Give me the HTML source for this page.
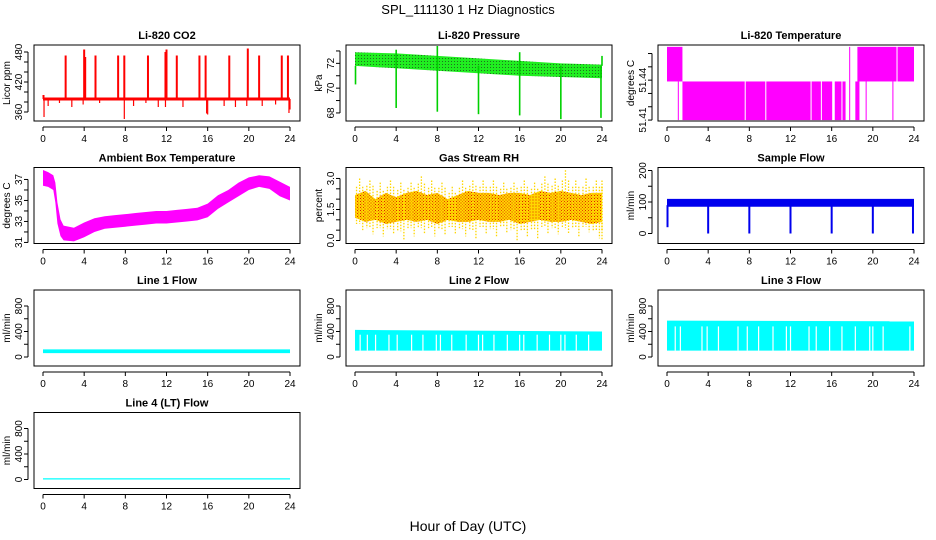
<!DOCTYPE html>
<html><head><meta charset="utf-8"><style>
html,body{margin:0;padding:0;background:#fff;}
svg{display:block;font-family:"Liberation Sans",Arial,sans-serif;}
</style></head><body>
<svg id="c" width="936" height="540" viewBox="0 0 936 540" xmlns="http://www.w3.org/2000/svg">
<defs>
<pattern id="rhpat" width="3" height="3" patternUnits="userSpaceOnUse"><rect width="3" height="3" fill="#ffd700"/><rect x="0" y="0" width="1" height="1" fill="#e02000"/><rect x="1.5" y="1.5" width="1" height="1" fill="#e02000"/></pattern>
<pattern id="prpat" width="3" height="3" patternUnits="userSpaceOnUse"><rect width="3" height="3" fill="#20ee20"/><rect x="1" y="1" width="1" height="1" fill="#207020"/></pattern>
</defs>
<text x="468" y="14" text-anchor="middle" font-size="13">SPL_111130  1 Hz Diagnostics</text>
<text x="468" y="531" text-anchor="middle" font-size="14">Hour of Day (UTC)</text>
</svg>
<script>
// ---- data ----
const xTicks=[0,4,8,12,16,20,24];
// CO2
const co2Hours=[0,24];
const co2Lo=[383,383];
const co2Hi=[389,389];
const co2UpSpikes=[[2.2,473],[4.0,485],[4.1,470],[5.1,473],[7.3,473],[7.9,473],[10.2,473],[11.9,480],[12.0,485],[13.0,473],[15.2,473],[15.8,473],[18.1,473],[19.9,487],[21.0,473],[23.2,473],[23.8,473],[0.05,394]];
const co2DownSpikes=[[0.1,350],[0.5,372],[1.6,378],[2.8,370],[3.9,375],[5.5,378],[7.9,346],[8.8,372],[10.0,378],[11.2,370],[11.9,370],[13.6,370],[15.9,357],[16.0,355],[17.6,372],[18.7,370],[19.8,372],[21.3,372],[22.6,375],[23.9,358],[24.0,365]];
// Pressure
const prHours=[0,4,8,12,16,20,24];
const prHi=[72.9,72.8,72.6,72.4,72.2,72.0,71.9];
const prLo=[71.8,71.6,71.4,71.2,71.0,70.9,70.8];
const prSpikes=[[0.05,70.3],[4.0,68.4],[8.0,68.1],[12.0,67.9],[16.0,67.8],[20.0,67.5],[23.9,67.6],[8.0,73.4],[16.0,72.9],[4.0,73.1],[24.0,72.6]];
// Li-820 temperature segments: start, end, lo, hi
const tSegStart=[0,1.05,1.5,7.65,9.65,14.05,15.05,16.3,17.05,17.7,18.3,18.5,19.3,21.9,22.4];
const tSegEnd=[1.5,1.15,7.55,9.55,13.95,14.95,16.05,16.95,17.35,17.8,18.7,22.3,19.4,22.0,24];
const tSegLo=[51.439,51.41,51.41,51.41,51.41,51.41,51.41,51.41,51.41,51.41,51.41,51.439,51.41,51.41,51.439];
const tSegHi=[51.465,51.439,51.439,51.439,51.439,51.439,51.439,51.439,51.439,51.465,51.439,51.465,51.439,51.439,51.465];
// Ambient temperature
const ambHours=[0,0.5,1,1.2,1.4,1.7,2,3,4,5,6,7,8,9,10,11,12,13,14,15,16,17,18,19,20,21,22,23,24];
const ambHi=[37.9,37.7,37.4,36.7,34.8,33.2,32.6,32.4,32.9,33.3,33.5,33.6,33.7,33.8,33.9,34.0,34.0,34.1,34.2,34.3,34.7,35.5,36.0,36.7,37.2,37.4,37.3,36.8,36.3];
const ambLo=[36.4,36.3,36.0,34.8,32.8,31.6,31.2,31.1,31.5,32.0,32.3,32.4,32.5,32.6,32.7,32.8,32.8,32.9,33.0,33.1,33.4,34.2,34.8,35.4,36.0,36.3,36.1,35.4,35.0];
// Gas stream RH
const rhHours=[0,1,2,3,4,5,6,7,8,9,10,11,12,13,14,15,16,17,18,19,20,21,22,23,24];
const rhCoreHi=[2.2,2.4,2.0,2.3,2.1,2.3,2.4,2.2,2.3,2.0,2.2,2.4,2.3,2.3,2.2,2.3,2.3,2.2,2.4,2.3,2.4,2.3,2.2,2.3,2.3];
const rhCoreLo=[1.1,0.9,1.0,0.8,0.9,1.0,0.9,1.0,0.8,1.0,0.9,0.9,1.0,0.9,0.9,1.0,0.8,0.9,1.0,0.9,0.9,1.0,0.9,0.8,0.9];
const rhWhiskHi=[3.0,2.9,2.8,2.9,2.8,2.8,3.1,2.9,2.8,2.6,2.9,2.9,2.9,2.9,2.8,2.8,2.9,2.8,3.1,3.0,3.4,2.9,3.0,2.9,2.9];
const rhWhiskLo=[0.5,0.3,0.2,0.3,0.0,0.2,0.3,0.2,0.3,0.3,0.2,0.1,0.3,0.2,0.4,0.0,0.2,0.1,0.3,0.3,0.3,0.2,0.4,0.1,0.0];
// Sample flow
const sfHours=[0,24];
const sfLo=[85,85];
const sfHi=[110,110];
const sfSpikes=[[0.05,20],[4.0,0],[8.0,0],[12.0,0],[16.0,0],[20.0,0],[23.9,0]];
// Line flows
const l1Hours=[0,24];const l1Lo=[60,60];const l1Hi=[120,120];
const l2Hours=[0,24];const l2Lo=[100,100];const l2Hi=[425,400];
const l2Gaps=[0.5,1.2,2.0,3.3,4.1,5.5,6.6,7.9,8.3,9.4,10.8,12.0,12.4,13.5,14.8,16.0,16.4,17.7,18.9,20.0,20.4,21.5,22.7];
const l3Hours=[0,24];const l3Lo=[100,100];const l3Hi=[570,560];
const l3Gaps=[0.8,1.3,3.4,3.9,5.0,6.9,7.8,8.9,10.3,11.6,12.0,13.8,14.5,15.8,17.0,18.3,19.7,20.0,21.0,23.6];
const l4Hours=[0,24];const l4Lo=[0,0];const l4Hi=[20,20];

// ---- layout ----
const NS="http://www.w3.org/2000/svg";
const svg=document.getElementById('c');
function mk(tag,attrs,parent){const e=document.createElementNS(NS,tag);for(const k in attrs)e.setAttribute(k,attrs[k]);(parent||svg).appendChild(e);return e;}
function panel(col,row,title,ylab,ylim,yTicks,yLabels,name){
  const L=34+312*col,R=300+312*col,T=45+122.5*row,B=121+122.5*row;
  const g=mk('g',{});
  
  
  const sx=h=>L+9+h*(R-L-19)/24;
  const sy=v=>T+(ylim[1]-v)*(B-T)/(ylim[1]-ylim[0]);
  const p={g,L,R,T,B,sx,sy};
  const t=mk('text',{x:(L+R)/2,y:T-6,'text-anchor':'middle','font-size':11,'font-weight':'bold'},g);t.textContent=title;
  
  const yl=mk('text',{x:0,y:0,'text-anchor':'middle','font-size':10,transform:`translate(${L-24},${(T+B)/2}) rotate(-90)`},g);yl.textContent=ylab;
  
  const xa=mk('g',{},g);
  mk('line',{x1:sx(0),x2:sx(24),y1:B+6,y2:B+6,stroke:'#000'},xa);
  xTicks.forEach(h=>{mk('line',{x1:sx(h),x2:sx(h),y1:B+6,y2:B+10,stroke:'#000'},xa);
    const tt=mk('text',{x:sx(h),y:B+21,'text-anchor':'middle','font-size':10},xa);tt.textContent=h;});
  const ya=mk('g',{},g);
  mk('line',{x1:L-6,x2:L-6,y1:sy(yTicks[0]),y2:sy(yTicks[yTicks.length-1]),stroke:'#000'},ya);
  yTicks.forEach(v=>mk('line',{x1:L-10,x2:L-6,y1:sy(v),y2:sy(v),stroke:'#000'},ya));
  yLabels.forEach(v=>{const tt=mk('text',{x:0,y:0,'text-anchor':'middle','font-size':10,transform:`translate(${L-12},${sy(v)}) rotate(-90)`},ya);tt.textContent=v;});
  p.box=()=>{const b=mk('rect',{x:L,y:T,width:R-L,height:B-T,fill:'none',stroke:'#000'},g);};
  return p;
}
function band(p,hours,lo,hi,fill,name){
  let pts=hours.map((h,i)=>p.sx(h)+','+p.sy(hi[i]));
  for(let i=hours.length-1;i>=0;i--)pts.push(p.sx(hours[i])+','+p.sy(lo[i]));
  const e=mk('polygon',{points:pts.join(' '),fill:fill},p.g);
  
}
function spikes(p,arr,base,color,w,name){
  arr.forEach(s=>{const e=mk('line',{x1:p.sx(s[0]),x2:p.sx(s[0]),y1:p.sy(base),y2:p.sy(s[1]),stroke:color,'stroke-width':w},p.g);
    });
}
function gaps(p,arr,lo,hi,name){
  arr.forEach(h=>{const e=mk('line',{x1:p.sx(h),x2:p.sx(h),y1:p.sy(hi),y2:p.sy(lo),stroke:'#fff','stroke-width':1.2},p.g);
    });
}
const flowTicks=[0,200,400,600,800],flowLab=[0,400,800],flowLim=[-141,1051];

// CO2
let p=panel(0,0,'Li-820 CO2','Licor ppm',[342,494],[360,380,400,420,440,460,480],[360,420,480],'co2');
band(p,co2Hours,co2Lo,co2Hi,'#ff0000','co2-series');
spikes(p,co2UpSpikes,386,'#ff0000',2,'co2-spike');
spikes(p,co2DownSpikes,386,'#ff0000',1.2,'co2-dip');
p.box();
// Pressure
p=panel(1,0,'Li-820 Pressure','kPa',[67.35,73.48],[68,69,70,71,72,73],[68,70,72],'pressure');
band(p,prHours,prLo,prHi,'url(#prpat)','pressure-series');
spikes(p,prSpikes,71.8,'#00d000',1.6,'pressure-spike');
p.box();
// Li-820 Temp
p=panel(2,0,'Li-820 Temperature','degrees C',[51.4093,51.4664],[51.41,51.42,51.43,51.44,51.45,51.46],[51.41,51.44],'li820-temp');
tSegStart.forEach((s,i)=>{const e=mk('rect',{x:p.sx(s),y:p.sy(tSegHi[i]),width:Math.max(1,p.sx(tSegEnd[i])-p.sx(s)),height:p.sy(tSegLo[i])-p.sy(tSegHi[i]),fill:'#ff00ff'},p.g);
  });
p.box();
// Ambient
p=panel(0,1,'Ambient Box Temperature','degrees C',[30.9,38.14],[31,32,33,34,35,36,37],[31,33,35,37],'ambient-temp');
band(p,ambHours,ambLo,ambHi,'#ff00ff','ambient-temp-series');
p.box();
// RH
p=panel(1,1,'Gas Stream RH','percent',[-0.145,3.53],[0,0.5,1,1.5,2,2.5,3],['0.0','1.5','3.0'],'rh');
band(p,rhHours,rhCoreLo,rhCoreHi,'url(#rhpat)','rh-series');
rhHours.forEach((h,i)=>{
  [0.15,0.45,0.75].forEach((o,k)=>{const hh=Math.min(24,h+o);
    const e=mk('line',{x1:p.sx(hh),x2:p.sx(hh),y1:p.sy(k==1?rhWhiskHi[i]:(rhWhiskHi[i]+rhCoreHi[i])/2),y2:p.sy(k==2?rhWhiskLo[i]:(rhWhiskLo[i]+rhCoreLo[i])/2),stroke:'#ffd700','stroke-width':1.3,'stroke-dasharray':'1.5 1.5'},p.g);
    });
});
p.box();
// Sample flow
p=panel(2,1,'Sample Flow','ml/min',[-31.7,209.5],[0,50,100,150,200],[0,100,200],'sample-flow');
band(p,sfHours,sfLo,sfHi,'#0000ee','sample-flow-series');
spikes(p,sfSpikes,90,'#0000ee',2,'sample-flow-dip');
p.box();
// Line 1
p=panel(0,2,'Line 1 Flow','ml/min',flowLim,flowTicks,flowLab,'line1-flow');
band(p,l1Hours,l1Lo,l1Hi,'#00ffff','line1-flow-series');p.box();
// Line 2
p=panel(1,2,'Line 2 Flow','ml/min',flowLim,flowTicks,flowLab,'line2-flow');
band(p,l2Hours,l2Lo,l2Hi,'#00ffff','line2-flow-series');gaps(p,l2Gaps,l2Lo[0],350,'line2-flow-gap');p.box();
// Line 3
p=panel(2,2,'Line 3 Flow','ml/min',flowLim,flowTicks,flowLab,'line3-flow');
band(p,l3Hours,l3Lo,l3Hi,'#00ffff','line3-flow-series');gaps(p,l3Gaps,l3Lo[0],480,'line3-flow-gap');p.box();
// Line 4
p=panel(0,3,'Line 4 (LT) Flow','ml/min',flowLim,flowTicks,flowLab,'line4-flow');
band(p,l4Hours,l4Lo,l4Hi,'#00ffff','line4-flow-series');p.box();
</script>
</body></html>
